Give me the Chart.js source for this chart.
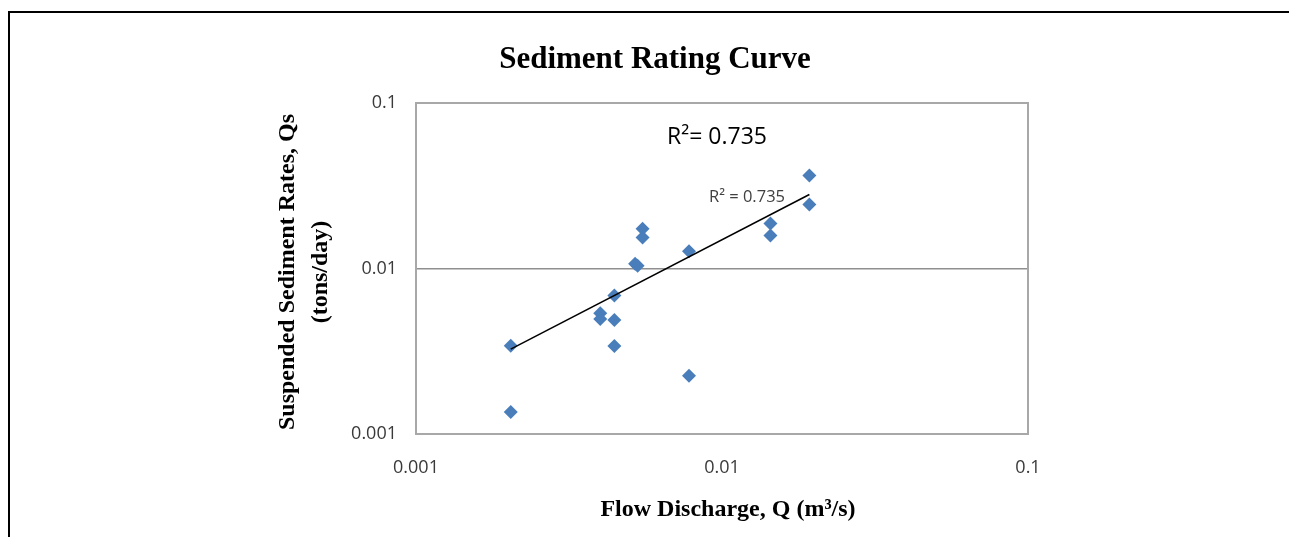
<!DOCTYPE html>
<html>
<head>
<meta charset="utf-8">
<title>Sediment Rating Curve</title>
<script src="https://cdn.jsdelivr.net/npm/chart.js@4.4.1/dist/chart.umd.min.js"></script>
<style>
  html, body { margin: 0; padding: 0; background: #fff; overflow: hidden; }
  #wrap { position: relative; width: 1289px; height: 537px; }
  #frame { position: absolute; left: 8px; top: 11px; width: 1400px; height: 600px;
           border-top: 2px solid #000; border-left: 2px solid #000; pointer-events: none; }
  canvas { position: absolute; left: 0; top: 0; }
</style>
</head>
<body>
<div id="wrap">
  <canvas id="c" width="1289" height="537"></canvas>
  <div id="frame"></div>
</div>
<script>
// Measured flow discharge Q (m^3/s) and suspended sediment rate Qs (tons/day)
const flowQ = [0.00204, 0.00204, 0.0040, 0.0040, 0.00445, 0.00445, 0.00445, 0.0052, 0.0053,
               0.0055, 0.0055, 0.0078, 0.0078, 0.0144, 0.0144, 0.0193, 0.0193];
const sedQs = [0.00341, 0.00136, 0.00536, 0.00496, 0.00686, 0.00489, 0.0034, 0.0107, 0.0104,
               0.0174, 0.0154, 0.0127, 0.00225, 0.0187, 0.0158, 0.0365, 0.0244];

// Power trendline end points
const trendQ  = [0.00204, 0.0193];
const trendQs = [0.00326, 0.0280];
const rSquared = '0.735';

// Axis ticks
const xTicks = [0.001, 0.01, 0.1];
const xTickLabels = ['0.001', '0.01', '0.1'];
const yTicks = [0.001, 0.01, 0.1];
const yTickLabels = ['0.001', '0.01', '0.1'];

const chartTitle = 'Sediment Rating Curve';
const xTitle = 'Flow Discharge, Q (m³/s)';
const yTitleLines = ['Suspended Sediment Rates, Qs', '(tons/day)'];

const points = flowQ.map((q, i) => ({ x: q, y: sedQs[i] }));
const trend = trendQ.map((q, i) => ({ x: q, y: trendQs[i] }));

const SERIF = '"Liberation Serif", "Times New Roman", serif';
const SANS = '"Open Sans", "Liberation Sans", sans-serif';

// Plot frame and all free-standing text
const decorPlugin = {
  id: 'decor',
  beforeDatasetsDraw(chart) {
    const { ctx, chartArea: a } = chart;
    ctx.save();
    ctx.strokeStyle = '#a8a8a8';
    ctx.lineWidth = 2;
    ctx.strokeRect(a.left, a.top, a.right - a.left, a.bottom - a.top);
    ctx.restore();
  },
  afterDraw(chart) {
    const { ctx } = chart;
    ctx.save();
    ctx.fillStyle = '#000';
    ctx.textAlign = 'center';

    // chart title
    ctx.font = 'bold 31px ' + SERIF;
    ctx.textBaseline = 'alphabetic';
    ctx.fillText(chartTitle, 655, 68);

    // x axis title
    ctx.font = 'bold 24px ' + SERIF;
    ctx.textBaseline = 'middle';
    ctx.fillText(xTitle, 728, 510);

    // y axis title, two rotated lines
    ctx.save();
    ctx.translate(288, 272);
    ctx.rotate(-Math.PI / 2);
    ctx.fillText(yTitleLines[0], 0, 0);
    ctx.fillText(yTitleLines[1], 0, 33);
    ctx.restore();

    // large R² label
    ctx.font = '23px ' + SANS;
    ctx.fillStyle = '#000';
    ctx.textAlign = 'left';
    ctx.fillText('R²= ' + rSquared, 667, 137);

    // trendline R² label
    ctx.font = '16.5px ' + SANS;
    ctx.fillStyle = '#404040';
    ctx.fillText('R² = ' + rSquared, 709, 197);
    ctx.restore();
  }
};

new Chart(document.getElementById('c'), {
  type: 'scatter',
  data: {
    datasets: [
      {
        label: 'Qs',
        data: points,
        pointStyle: 'rectRot',
        pointRadius: 7,
        pointHoverRadius: 7,
        backgroundColor: '#4a7ebb',
        borderColor: '#4a7ebb',
        borderWidth: 0,
        order: 2
      },
      {
        label: 'Power trendline',
        data: trend,
        type: 'line',
        showLine: true,
        pointRadius: 0,
        borderColor: '#000',
        borderWidth: 1.5,
        fill: false,
        order: 1
      }
    ]
  },
  options: {
    responsive: false,
    animation: false,
    devicePixelRatio: 1,
    layout: { padding: { left: 0, top: 103, right: 261, bottom: 43 } },
    plugins: {
      legend: { display: false },
      title: { display: false },
      tooltip: { enabled: false }
    },
    scales: {
      x: {
        type: 'logarithmic',
        min: 0.001,
        max: 0.1,
        afterFit: s => { s.height = 60; },
        afterBuildTicks: s => { s.ticks = xTicks.map(v => ({ value: v })); },
        grid: { display: false, drawTicks: false },
        border: { display: false },
        ticks: {
          autoSkip: false,
          maxRotation: 0,
          padding: 23,
          color: '#3a3a3a',
          font: { family: SANS, size: 18 },
          callback: (v, i) => xTickLabels[i]
        }
      },
      y: {
        type: 'logarithmic',
        min: 0.001,
        max: 0.1,
        afterFit: s => { s.width = 416; },
        afterBuildTicks: s => { s.ticks = yTicks.map(v => ({ value: v })); },
        grid: { color: '#8f8f8f', lineWidth: 1.5, drawTicks: false },
        border: { display: false },
        ticks: {
          autoSkip: false,
          padding: 19,
          color: '#3a3a3a',
          font: { family: SANS, size: 18 },
          callback: (v, i) => yTickLabels[i]
        }
      }
    }
  },
  plugins: [decorPlugin]
});
</script>
</body>
</html>
